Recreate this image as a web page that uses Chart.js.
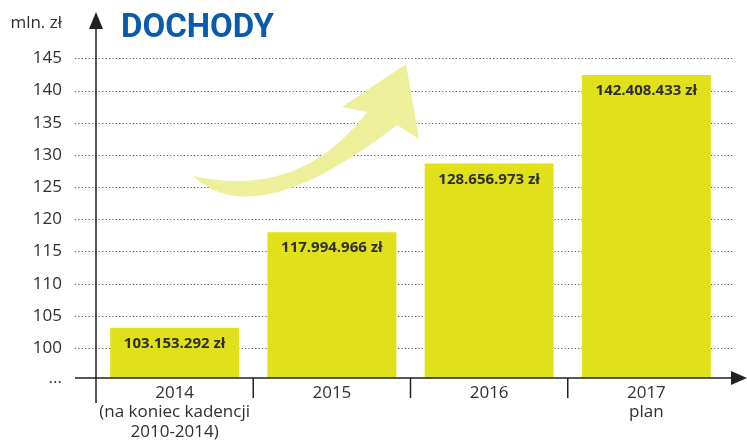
<!DOCTYPE html>
<html>
<head>
<meta charset="utf-8">
<script src="https://cdn.jsdelivr.net/npm/chart.js@4/dist/chart.umd.min.js"></script>
<style>
  html, body { margin: 0; padding: 0; background: #fff; }
  #wrap { width: 747px; height: 441px; position: relative; }
</style>
</head>
<body>
<div id="wrap"><canvas id="dochody-chart" width="747" height="441"></canvas></div>
<script>
// dane
const years = [
  ["2014", "(na koniec kadencji", "2010-2014)"],
  ["2015"],
  ["2016"],
  ["2017", "plan"],
];
const dochody = [103153292, 117994966, 128656973, 142408433];
const yTicks = [100, 105, 110, 115, 120, 125, 130, 135, 140, 145];

const barColor = "#e1e11b";
const textColor = "#2f2f2f";

function formatZl(v) {
  return String(v).replace(/\B(?=(\d{3})+(?!\d))/g, ".") + " zł";
}

const decorPlugin = {
  id: "decor",
  beforeDatasetsDraw(chart) {
    const { ctx, scales } = chart;
    const y = scales.y;
    ctx.save();
    // kropkowana siatka
    ctx.strokeStyle = "#555";
    ctx.lineWidth = 1;
    ctx.setLineDash([1.2, 2.2]);
    yTicks.forEach((t) => {
      const py = Math.round(y.getPixelForValue(t)) + 0.5;
      ctx.beginPath();
      ctx.moveTo(75, py);
      ctx.lineTo(735, py);
      ctx.stroke();
    });
    ctx.setLineDash([]);

    // strzałka
    ctx.fillStyle = "#eeef9a";
    ctx.beginPath();
    ctx.moveTo(193, 176);
    ctx.quadraticCurveTo(300, 200, 367, 112);
    ctx.lineTo(342, 107);
    ctx.lineTo(406, 64);
    ctx.lineTo(419, 139);
    ctx.lineTo(397, 125);
    ctx.quadraticCurveTo(255, 235, 193, 176);
    ctx.fill();
    ctx.restore();
  },
  afterDatasetsDraw(chart) {
    const { ctx, chartArea, scales } = chart;
    const x = scales.x;
    const bottom = chartArea.bottom;
    ctx.save();

    // etykiety słupków
    const meta = chart.getDatasetMeta(0);
    ctx.fillStyle = textColor;
    ctx.font = "bold 15px 'Open Sans'";
    ctx.textAlign = "center";
    ctx.textBaseline = "middle";
    meta.data.forEach((bar, i) => {
      ctx.fillText(formatZl(dochody[i]), bar.x, bar.y + 16);
    });

    // osie
    ctx.strokeStyle = "#222";
    ctx.fillStyle = "#222";
    ctx.lineWidth = 1.5;
    const ax = chartArea.left;
    ctx.beginPath();
    ctx.moveTo(ax, 26);
    ctx.lineTo(ax, bottom + 25);
    ctx.moveTo(75, bottom);
    ctx.lineTo(735, bottom);
    ctx.stroke();
    // separatory kategorii
    const step = x.getPixelForValue(1) - x.getPixelForValue(0);
    for (let i = 0; i < years.length - 1; i++) {
      const px = x.getPixelForValue(i) + step / 2;
      ctx.beginPath();
      ctx.moveTo(px, bottom);
      ctx.lineTo(px, bottom + 20);
      ctx.stroke();
    }
    // groty strzałek
    ctx.beginPath();
    ctx.moveTo(ax, 12);
    ctx.lineTo(ax - 7, 29);
    ctx.lineTo(ax + 7, 29);
    ctx.closePath();
    ctx.fill();
    ctx.beginPath();
    ctx.moveTo(747, bottom);
    ctx.lineTo(731, bottom - 7);
    ctx.lineTo(731, bottom + 7);
    ctx.closePath();
    ctx.fill();

    // tytuł i jednostka
    ctx.fillStyle = "#0a5bab";
    ctx.font = "bold 33px Roboto";
    ctx.textAlign = "left";
    ctx.textBaseline = "alphabetic";
    ctx.fillText("DOCHODY", 121, 37);
    ctx.fillStyle = textColor;
    ctx.font = "17px 'Open Sans'";
    ctx.textAlign = "right";
    ctx.fillText("mln. zł", 62, 28);
    ctx.restore();
  },
};

new Chart(document.getElementById("dochody-chart"), {
  type: "bar",
  data: {
    labels: years,
    datasets: [
      {
        data: dochody.map((v) => v / 1e6),
        backgroundColor: barColor,
        borderWidth: 0,
        barPercentage: 0.82,
        categoryPercentage: 1,
      },
    ],
  },
  options: {
    responsive: false,
    animation: false,
    layout: { padding: { top: 8, right: 22, left: 0, bottom: 0 } },
    plugins: {
      legend: { display: false },
      tooltip: { enabled: false },
    },
    scales: {
      x: {
        grid: { display: false, drawTicks: false },
        border: { display: false },
        ticks: {
          color: textColor,
          font: { family: "'Open Sans'", size: 17, lineHeight: 1.15 },
          padding: 5,
          maxRotation: 0,
        },
        afterFit: (s) => { s.height = 63; },
      },
      y: {
        min: 95.35,
        max: 147.2,
        grid: { display: false, drawTicks: false },
        border: { display: false },
        afterBuildTicks: (s) => {
          s.ticks = [s.min, ...yTicks].map((v) => ({ value: v }));
        },
        ticks: {
          color: textColor,
          font: { family: "'Open Sans'", size: 17 },
          padding: 34,
          callback: (v) => (v < 100 ? "..." : v),
        },
        afterFit: (s) => { s.width = 96; },
      },
    },
  },
  plugins: [decorPlugin],
});
</script>
</body>
</html>
